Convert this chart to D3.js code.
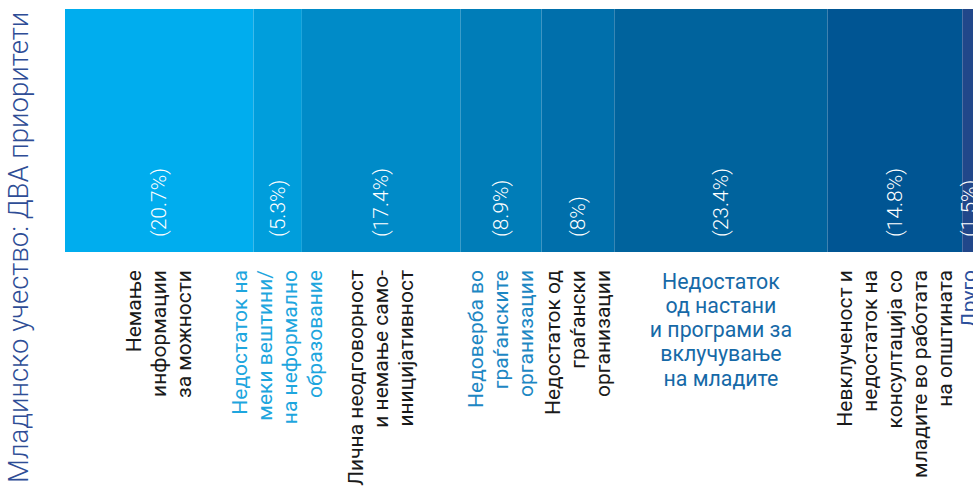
<!DOCTYPE html>
<html>
<head>
<meta charset="utf-8">
<script src="https://cdn.jsdelivr.net/npm/d3@7"></script>
<style>
html,body{margin:0;padding:0;background:#fff;overflow:hidden;}
svg{display:block;font-family:Roboto, "Noto Sans", sans-serif;}
</style>
</head>
<body>
<svg id="chart" width="973" height="487"></svg>
<script>
const title = "Младинско учество: ДВА приоритети";
const categories = [
  ["Немање", "информации", "за можности"],
  ["Недостаток на", "меки вештини/", "на неформално", "образование"],
  ["Лична неодговорност", "и немање само-", "иницијативност"],
  ["Недоверба во", "граѓанските", "организации"],
  ["Недостаток од", "граѓански", "организации"],
  ["Недостаток", "од настани", "и програми за", "вклучување", "на младите"],
  ["Невклученост и", "недостаток на", "консултација со", "младите во работата", "на општината"],
  ["Друго"]
];
const values = [20.7, 5.3, 17.4, 8.9, 8, 23.4, 14.8, 1.5];
const segColors = ["#00adee", "#009edc", "#008bc8", "#007db8", "#006fab", "#00639d", "#005593", "#21478a"];
const labelColors = ["#1a1a1a", "#1ea6de", "#1a1a1a", "#1d87c3", "#1a1a1a", "#1669a7", "#1a1a1a", "#2c4f9c"];
const horizontalLabels = [5];

const svg = d3.select("#chart");
const barTop = 9, barBottom = 252;

const x = d3.scaleLinear().domain([0, 100]).range([65, 976]);

let acc = 0;
const segs = values.map((v, i) => {
  const s = {i, v, x0: acc, x1: acc + v};
  acc += v;
  return s;
});

svg.selectAll("rect.seg").data(segs).join("rect")
  .attr("class", "seg")
  .attr("x", d => x(d.x0))
  .attr("y", barTop)
  .attr("width", d => x(d.x1) - x(d.x0))
  .attr("height", barBottom - barTop)
  .attr("fill", d => segColors[d.i]);

// percentage labels
svg.selectAll("text.pct").data(segs).join("text")
  .attr("class", "pct")
  .attr("transform", d => `translate(${(x(d.x0) + x(d.x1)) / 2},237) rotate(-90)`)
  .attr("text-anchor", "start")
  .attr("dominant-baseline", "central")
  .attr("fill", "#ffffff")
  .attr("font-size", 21)
  .attr("font-weight", 300)
  .text(d => `(${d.v}%)`);

// category labels
const lineH = 25;
segs.forEach(d => {
  const cx = (x(d.x0) + x(d.x1)) / 2;
  const lines = categories[d.i];
  const n = lines.length;
  const g = svg.append("g").attr("fill", labelColors[d.i]).attr("font-size", 21);
  if (horizontalLabels.includes(d.i)) {
    lines.forEach((ln, k) => {
      g.append("text")
        .attr("x", cx)
        .attr("y", 281 + k * 24.3)
        .attr("text-anchor", "middle")
        .attr("dominant-baseline", "central")
        .attr("font-size", 21.3)
        .text(ln);
    });
  } else {
    lines.forEach((ln, k) => {
      const lx = cx + (k - (n - 1) / 2) * lineH;
      g.append("text")
        .attr("transform", `translate(${lx},270) rotate(-90)`)
        .attr("text-anchor", "end")
        .attr("dominant-baseline", "central")
        .text(ln);
    });
  }
});

// title
svg.append("text")
  .attr("transform", "translate(18,483) rotate(-90)")
  .attr("text-anchor", "start")
  .attr("dominant-baseline", "central")
  .attr("fill", "#2e4d96")
  .attr("font-size", 27.5)
  .attr("font-weight", 300)
  .text(title);
</script>
</body>
</html>
